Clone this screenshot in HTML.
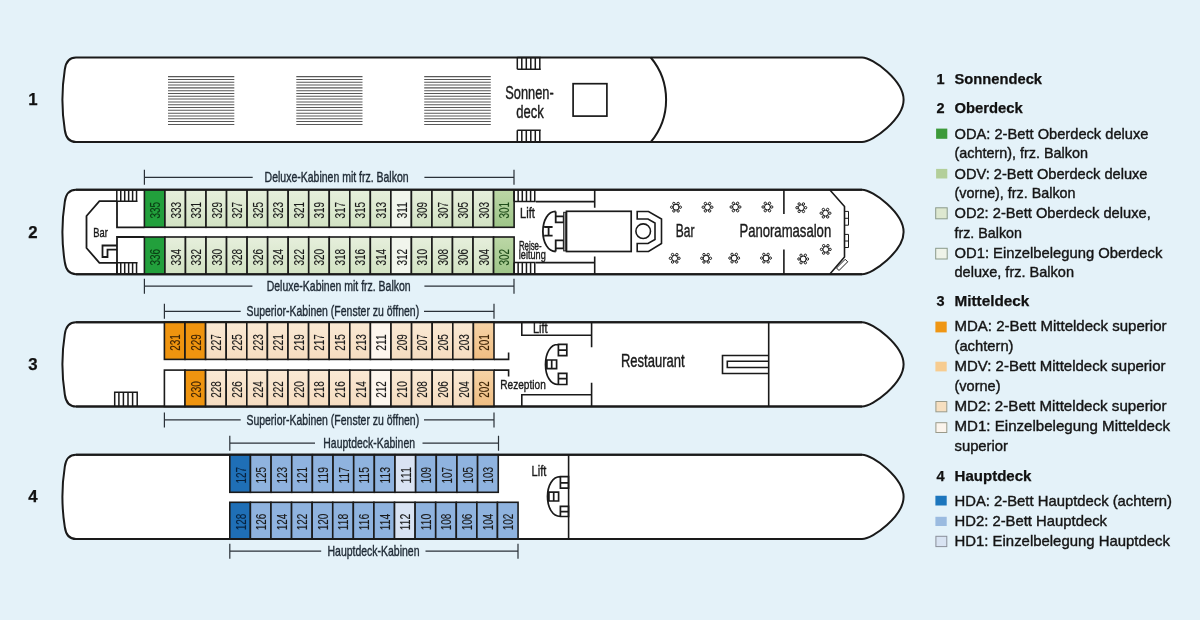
<!DOCTYPE html><html><head><meta charset="utf-8"><style>html,body{margin:0;padding:0;background:#e4f2f9;}svg{display:block;will-change:transform;}text{font-family:"Liberation Sans",sans-serif;}</style></head><body>
<svg width="1200" height="620" viewBox="0 0 1200 620">
<defs><linearGradient id="gG" x1="0" y1="0" x2="0" y2="1"><stop offset="0" stop-color="#e6efdc"/><stop offset="1" stop-color="#d2e2c3"/></linearGradient><linearGradient id="gGm" x1="0" y1="0" x2="0" y2="1"><stop offset="0" stop-color="#bcd7a6"/><stop offset="1" stop-color="#9ec588"/></linearGradient><linearGradient id="gO" x1="0" y1="0" x2="0" y2="1"><stop offset="0" stop-color="#fae9d4"/><stop offset="1" stop-color="#f5dcc0"/></linearGradient><linearGradient id="gOm" x1="0" y1="0" x2="0" y2="1"><stop offset="0" stop-color="#f6d3a6"/><stop offset="1" stop-color="#efbd82"/></linearGradient></defs>
<rect width="1200" height="620" fill="#e4f2f9"/>
<path d="M76,57.5 H862 C873,57.5 903.6,80.75 903.6,99.75 C903.6,118.75 873,142 862,142 H76 C68.5,142 65.6,136 64.8,130 Q60,99.75 64.8,69.5 C65.6,63.5 68.5,57.5 76,57.5 Z" fill="#fff" stroke="#1a1a1a" stroke-width="2"/>
<path d="M76,189.8 H862 C873,189.8 903.6,213.0 903.6,232.0 C903.6,251.0 873,274.2 862,274.2 H76 C68.5,274.2 65.6,268.2 64.8,262.2 Q60,232.0 64.8,201.8 C65.6,195.8 68.5,189.8 76,189.8 Z" fill="#fff" stroke="#1a1a1a" stroke-width="2"/>
<path d="M76,322.2 H862 C873,322.2 903.6,345.35 903.6,364.35 C903.6,383.35 873,406.5 862,406.5 H76 C68.5,406.5 65.6,400.5 64.8,394.5 Q60,364.35 64.8,334.2 C65.6,328.2 68.5,322.2 76,322.2 Z" fill="#fff" stroke="#1a1a1a" stroke-width="2"/>
<path d="M76,454.7 H862 C873,454.7 903.6,477.85 903.6,496.85 C903.6,515.85 873,539 862,539 H76 C68.5,539 65.6,533 64.8,527 Q60,496.85 64.8,466.7 C65.6,460.7 68.5,454.7 76,454.7 Z" fill="#fff" stroke="#1a1a1a" stroke-width="2"/>
<text x="32.9" y="105.35" font-size="16.8" font-weight="bold" fill="#111" stroke="#111" stroke-width="0.25" text-anchor="middle" >1</text>
<text x="32.9" y="237.6" font-size="16.8" font-weight="bold" fill="#111" stroke="#111" stroke-width="0.25" text-anchor="middle" >2</text>
<text x="32.9" y="369.95000000000005" font-size="16.8" font-weight="bold" fill="#111" stroke="#111" stroke-width="0.25" text-anchor="middle" >3</text>
<text x="32.9" y="502.45000000000005" font-size="16.8" font-weight="bold" fill="#111" stroke="#111" stroke-width="0.25" text-anchor="middle" >4</text>
<path d="M168,76.60 H234.3 M168,79.41 H234.3 M168,82.22 H234.3 M168,85.04 H234.3 M168,87.85 H234.3 M168,90.66 H234.3 M168,93.47 H234.3 M168,96.28 H234.3 M168,99.09 H234.3 M168,101.91 H234.3 M168,104.72 H234.3 M168,107.53 H234.3 M168,110.34 H234.3 M168,113.15 H234.3 M168,115.96 H234.3 M168,118.78 H234.3 M168,121.59 H234.3 M168,124.40 H234.3 " stroke="#585858" stroke-width="1.05" fill="none"/>
<path d="M296.3,76.60 H362.5 M296.3,79.41 H362.5 M296.3,82.22 H362.5 M296.3,85.04 H362.5 M296.3,87.85 H362.5 M296.3,90.66 H362.5 M296.3,93.47 H362.5 M296.3,96.28 H362.5 M296.3,99.09 H362.5 M296.3,101.91 H362.5 M296.3,104.72 H362.5 M296.3,107.53 H362.5 M296.3,110.34 H362.5 M296.3,113.15 H362.5 M296.3,115.96 H362.5 M296.3,118.78 H362.5 M296.3,121.59 H362.5 M296.3,124.40 H362.5 " stroke="#585858" stroke-width="1.05" fill="none"/>
<path d="M424.2,76.60 H490.8 M424.2,79.41 H490.8 M424.2,82.22 H490.8 M424.2,85.04 H490.8 M424.2,87.85 H490.8 M424.2,90.66 H490.8 M424.2,93.47 H490.8 M424.2,96.28 H490.8 M424.2,99.09 H490.8 M424.2,101.91 H490.8 M424.2,104.72 H490.8 M424.2,107.53 H490.8 M424.2,110.34 H490.8 M424.2,113.15 H490.8 M424.2,115.96 H490.8 M424.2,118.78 H490.8 M424.2,121.59 H490.8 M424.2,124.40 H490.8 " stroke="#585858" stroke-width="1.05" fill="none"/>
<path d="M517.3,57.5 H540.8 M517.3,69.2 H540.8 M517.3,57.5 V69.2 M521.8,57.5 V69.2 M526.3,57.5 V69.2 M530.8,57.5 V69.2 M535.3,57.5 V69.2 M539.8,57.5 V69.2" stroke="#1a1a1a" stroke-width="1.5" fill="none"/>
<path d="M517.3,130.3 H540.8 M517.3,142 H540.8 M517.3,130.3 V142 M521.8,130.3 V142 M526.3,130.3 V142 M530.8,130.3 V142 M535.3,130.3 V142 M539.8,130.3 V142" stroke="#1a1a1a" stroke-width="1.5" fill="none"/>
<text x="529.5" y="98.5" font-size="17.8" font-weight="normal" fill="#1a1a1a" stroke="#1a1a1a" stroke-width="0.4" text-anchor="middle" textLength="48.5" lengthAdjust="spacingAndGlyphs" >Sonnen-</text>
<text x="530" y="118" font-size="17.8" font-weight="normal" fill="#1a1a1a" stroke="#1a1a1a" stroke-width="0.4" text-anchor="middle" textLength="27.5" lengthAdjust="spacingAndGlyphs" >deck</text>
<rect x="573.1" y="83.7" width="33.8" height="32.4" fill="none" stroke="#1a1a1a" stroke-width="1.7"/>
<path d="M650.8,57.5 A66,66 0 0 1 650.8,142" fill="none" stroke="#1a1a1a" stroke-width="2"/>
<rect x="144.40" y="189.8" width="20.54" height="37.5" fill="#22a03c" stroke="#1a1a1a" stroke-width="1.6"/><text transform="translate(160.07,218.60) rotate(-90)" font-size="14" fill="#0b3d14" stroke="#0b3d14" stroke-width="0.12" textLength="16.6" lengthAdjust="spacingAndGlyphs">335</text><rect x="164.94" y="189.8" width="20.54" height="37.5" fill="url(#gG)" stroke="#1a1a1a" stroke-width="1.6"/><text transform="translate(180.61,218.60) rotate(-90)" font-size="14" fill="#1a1a1a" stroke="#1a1a1a" stroke-width="0.12" textLength="16.6" lengthAdjust="spacingAndGlyphs">333</text><rect x="185.48" y="189.8" width="20.54" height="37.5" fill="url(#gG)" stroke="#1a1a1a" stroke-width="1.6"/><text transform="translate(201.15,218.60) rotate(-90)" font-size="14" fill="#1a1a1a" stroke="#1a1a1a" stroke-width="0.12" textLength="16.6" lengthAdjust="spacingAndGlyphs">331</text><rect x="206.02" y="189.8" width="20.54" height="37.5" fill="url(#gG)" stroke="#1a1a1a" stroke-width="1.6"/><text transform="translate(221.69,218.60) rotate(-90)" font-size="14" fill="#1a1a1a" stroke="#1a1a1a" stroke-width="0.12" textLength="16.6" lengthAdjust="spacingAndGlyphs">329</text><rect x="226.56" y="189.8" width="20.54" height="37.5" fill="url(#gG)" stroke="#1a1a1a" stroke-width="1.6"/><text transform="translate(242.23,218.60) rotate(-90)" font-size="14" fill="#1a1a1a" stroke="#1a1a1a" stroke-width="0.12" textLength="16.6" lengthAdjust="spacingAndGlyphs">327</text><rect x="247.10" y="189.8" width="20.54" height="37.5" fill="url(#gG)" stroke="#1a1a1a" stroke-width="1.6"/><text transform="translate(262.77,218.60) rotate(-90)" font-size="14" fill="#1a1a1a" stroke="#1a1a1a" stroke-width="0.12" textLength="16.6" lengthAdjust="spacingAndGlyphs">325</text><rect x="267.64" y="189.8" width="20.54" height="37.5" fill="url(#gG)" stroke="#1a1a1a" stroke-width="1.6"/><text transform="translate(283.31,218.60) rotate(-90)" font-size="14" fill="#1a1a1a" stroke="#1a1a1a" stroke-width="0.12" textLength="16.6" lengthAdjust="spacingAndGlyphs">323</text><rect x="288.18" y="189.8" width="20.54" height="37.5" fill="url(#gG)" stroke="#1a1a1a" stroke-width="1.6"/><text transform="translate(303.85,218.60) rotate(-90)" font-size="14" fill="#1a1a1a" stroke="#1a1a1a" stroke-width="0.12" textLength="16.6" lengthAdjust="spacingAndGlyphs">321</text><rect x="308.72" y="189.8" width="20.54" height="37.5" fill="url(#gG)" stroke="#1a1a1a" stroke-width="1.6"/><text transform="translate(324.39,218.60) rotate(-90)" font-size="14" fill="#1a1a1a" stroke="#1a1a1a" stroke-width="0.12" textLength="16.6" lengthAdjust="spacingAndGlyphs">319</text><rect x="329.26" y="189.8" width="20.54" height="37.5" fill="url(#gG)" stroke="#1a1a1a" stroke-width="1.6"/><text transform="translate(344.93,218.60) rotate(-90)" font-size="14" fill="#1a1a1a" stroke="#1a1a1a" stroke-width="0.12" textLength="16.6" lengthAdjust="spacingAndGlyphs">317</text><rect x="349.80" y="189.8" width="20.54" height="37.5" fill="url(#gG)" stroke="#1a1a1a" stroke-width="1.6"/><text transform="translate(365.47,218.60) rotate(-90)" font-size="14" fill="#1a1a1a" stroke="#1a1a1a" stroke-width="0.12" textLength="16.6" lengthAdjust="spacingAndGlyphs">315</text><rect x="370.34" y="189.8" width="20.54" height="37.5" fill="url(#gG)" stroke="#1a1a1a" stroke-width="1.6"/><text transform="translate(386.01,218.60) rotate(-90)" font-size="14" fill="#1a1a1a" stroke="#1a1a1a" stroke-width="0.12" textLength="16.6" lengthAdjust="spacingAndGlyphs">313</text><rect x="390.88" y="189.8" width="20.54" height="37.5" fill="#f1f5ec" stroke="#1a1a1a" stroke-width="1.6"/><text transform="translate(406.55,218.60) rotate(-90)" font-size="14" fill="#1a1a1a" stroke="#1a1a1a" stroke-width="0.12" textLength="16.6" lengthAdjust="spacingAndGlyphs">311</text><rect x="411.42" y="189.8" width="20.54" height="37.5" fill="url(#gG)" stroke="#1a1a1a" stroke-width="1.6"/><text transform="translate(427.09,218.60) rotate(-90)" font-size="14" fill="#1a1a1a" stroke="#1a1a1a" stroke-width="0.12" textLength="16.6" lengthAdjust="spacingAndGlyphs">309</text><rect x="431.96" y="189.8" width="20.54" height="37.5" fill="url(#gG)" stroke="#1a1a1a" stroke-width="1.6"/><text transform="translate(447.63,218.60) rotate(-90)" font-size="14" fill="#1a1a1a" stroke="#1a1a1a" stroke-width="0.12" textLength="16.6" lengthAdjust="spacingAndGlyphs">307</text><rect x="452.50" y="189.8" width="20.54" height="37.5" fill="url(#gG)" stroke="#1a1a1a" stroke-width="1.6"/><text transform="translate(468.17,218.60) rotate(-90)" font-size="14" fill="#1a1a1a" stroke="#1a1a1a" stroke-width="0.12" textLength="16.6" lengthAdjust="spacingAndGlyphs">305</text><rect x="473.04" y="189.8" width="20.54" height="37.5" fill="url(#gG)" stroke="#1a1a1a" stroke-width="1.6"/><text transform="translate(488.71,218.60) rotate(-90)" font-size="14" fill="#1a1a1a" stroke="#1a1a1a" stroke-width="0.12" textLength="16.6" lengthAdjust="spacingAndGlyphs">303</text><rect x="493.58" y="189.8" width="20.54" height="37.5" fill="url(#gGm)" stroke="#1a1a1a" stroke-width="1.6"/><text transform="translate(509.25,218.60) rotate(-90)" font-size="14" fill="#1f4d1a" stroke="#1f4d1a" stroke-width="0.12" textLength="16.6" lengthAdjust="spacingAndGlyphs">301</text>
<rect x="144.40" y="237" width="20.54" height="37.19999999999999" fill="#22a03c" stroke="#1a1a1a" stroke-width="1.6"/><text transform="translate(160.07,265.50) rotate(-90)" font-size="14" fill="#0b3d14" stroke="#0b3d14" stroke-width="0.12" textLength="16.6" lengthAdjust="spacingAndGlyphs">336</text><rect x="164.94" y="237" width="20.54" height="37.19999999999999" fill="url(#gG)" stroke="#1a1a1a" stroke-width="1.6"/><text transform="translate(180.61,265.50) rotate(-90)" font-size="14" fill="#1a1a1a" stroke="#1a1a1a" stroke-width="0.12" textLength="16.6" lengthAdjust="spacingAndGlyphs">334</text><rect x="185.48" y="237" width="20.54" height="37.19999999999999" fill="url(#gG)" stroke="#1a1a1a" stroke-width="1.6"/><text transform="translate(201.15,265.50) rotate(-90)" font-size="14" fill="#1a1a1a" stroke="#1a1a1a" stroke-width="0.12" textLength="16.6" lengthAdjust="spacingAndGlyphs">332</text><rect x="206.02" y="237" width="20.54" height="37.19999999999999" fill="url(#gG)" stroke="#1a1a1a" stroke-width="1.6"/><text transform="translate(221.69,265.50) rotate(-90)" font-size="14" fill="#1a1a1a" stroke="#1a1a1a" stroke-width="0.12" textLength="16.6" lengthAdjust="spacingAndGlyphs">330</text><rect x="226.56" y="237" width="20.54" height="37.19999999999999" fill="url(#gG)" stroke="#1a1a1a" stroke-width="1.6"/><text transform="translate(242.23,265.50) rotate(-90)" font-size="14" fill="#1a1a1a" stroke="#1a1a1a" stroke-width="0.12" textLength="16.6" lengthAdjust="spacingAndGlyphs">328</text><rect x="247.10" y="237" width="20.54" height="37.19999999999999" fill="url(#gG)" stroke="#1a1a1a" stroke-width="1.6"/><text transform="translate(262.77,265.50) rotate(-90)" font-size="14" fill="#1a1a1a" stroke="#1a1a1a" stroke-width="0.12" textLength="16.6" lengthAdjust="spacingAndGlyphs">326</text><rect x="267.64" y="237" width="20.54" height="37.19999999999999" fill="url(#gG)" stroke="#1a1a1a" stroke-width="1.6"/><text transform="translate(283.31,265.50) rotate(-90)" font-size="14" fill="#1a1a1a" stroke="#1a1a1a" stroke-width="0.12" textLength="16.6" lengthAdjust="spacingAndGlyphs">324</text><rect x="288.18" y="237" width="20.54" height="37.19999999999999" fill="url(#gG)" stroke="#1a1a1a" stroke-width="1.6"/><text transform="translate(303.85,265.50) rotate(-90)" font-size="14" fill="#1a1a1a" stroke="#1a1a1a" stroke-width="0.12" textLength="16.6" lengthAdjust="spacingAndGlyphs">322</text><rect x="308.72" y="237" width="20.54" height="37.19999999999999" fill="url(#gG)" stroke="#1a1a1a" stroke-width="1.6"/><text transform="translate(324.39,265.50) rotate(-90)" font-size="14" fill="#1a1a1a" stroke="#1a1a1a" stroke-width="0.12" textLength="16.6" lengthAdjust="spacingAndGlyphs">320</text><rect x="329.26" y="237" width="20.54" height="37.19999999999999" fill="url(#gG)" stroke="#1a1a1a" stroke-width="1.6"/><text transform="translate(344.93,265.50) rotate(-90)" font-size="14" fill="#1a1a1a" stroke="#1a1a1a" stroke-width="0.12" textLength="16.6" lengthAdjust="spacingAndGlyphs">318</text><rect x="349.80" y="237" width="20.54" height="37.19999999999999" fill="url(#gG)" stroke="#1a1a1a" stroke-width="1.6"/><text transform="translate(365.47,265.50) rotate(-90)" font-size="14" fill="#1a1a1a" stroke="#1a1a1a" stroke-width="0.12" textLength="16.6" lengthAdjust="spacingAndGlyphs">316</text><rect x="370.34" y="237" width="20.54" height="37.19999999999999" fill="url(#gG)" stroke="#1a1a1a" stroke-width="1.6"/><text transform="translate(386.01,265.50) rotate(-90)" font-size="14" fill="#1a1a1a" stroke="#1a1a1a" stroke-width="0.12" textLength="16.6" lengthAdjust="spacingAndGlyphs">314</text><rect x="390.88" y="237" width="20.54" height="37.19999999999999" fill="#f1f5ec" stroke="#1a1a1a" stroke-width="1.6"/><text transform="translate(406.55,265.50) rotate(-90)" font-size="14" fill="#1a1a1a" stroke="#1a1a1a" stroke-width="0.12" textLength="16.6" lengthAdjust="spacingAndGlyphs">312</text><rect x="411.42" y="237" width="20.54" height="37.19999999999999" fill="url(#gG)" stroke="#1a1a1a" stroke-width="1.6"/><text transform="translate(427.09,265.50) rotate(-90)" font-size="14" fill="#1a1a1a" stroke="#1a1a1a" stroke-width="0.12" textLength="16.6" lengthAdjust="spacingAndGlyphs">310</text><rect x="431.96" y="237" width="20.54" height="37.19999999999999" fill="url(#gG)" stroke="#1a1a1a" stroke-width="1.6"/><text transform="translate(447.63,265.50) rotate(-90)" font-size="14" fill="#1a1a1a" stroke="#1a1a1a" stroke-width="0.12" textLength="16.6" lengthAdjust="spacingAndGlyphs">308</text><rect x="452.50" y="237" width="20.54" height="37.19999999999999" fill="url(#gG)" stroke="#1a1a1a" stroke-width="1.6"/><text transform="translate(468.17,265.50) rotate(-90)" font-size="14" fill="#1a1a1a" stroke="#1a1a1a" stroke-width="0.12" textLength="16.6" lengthAdjust="spacingAndGlyphs">306</text><rect x="473.04" y="237" width="20.54" height="37.19999999999999" fill="url(#gG)" stroke="#1a1a1a" stroke-width="1.6"/><text transform="translate(488.71,265.50) rotate(-90)" font-size="14" fill="#1a1a1a" stroke="#1a1a1a" stroke-width="0.12" textLength="16.6" lengthAdjust="spacingAndGlyphs">304</text><rect x="493.58" y="237" width="20.54" height="37.19999999999999" fill="url(#gGm)" stroke="#1a1a1a" stroke-width="1.6"/><text transform="translate(509.25,265.50) rotate(-90)" font-size="14" fill="#1f4d1a" stroke="#1f4d1a" stroke-width="0.12" textLength="16.6" lengthAdjust="spacingAndGlyphs">302</text>
<path d="M76,189.8 H862 M76,274.2 H862" stroke="#1a1a1a" stroke-width="2" fill="none"/>
<path d="M116.8,189.8 H137.55 M116.8,201.2 H137.55 M116.8,189.8 V201.2 M120.75,189.8 V201.2 M124.7,189.8 V201.2 M128.65,189.8 V201.2 M132.6,189.8 V201.2 M136.55,189.8 V201.2" stroke="#1a1a1a" stroke-width="1.5" fill="none"/>
<path d="M116.8,262.8 H137.55 M116.8,274.2 H137.55 M116.8,262.8 V274.2 M120.75,262.8 V274.2 M124.7,262.8 V274.2 M128.65,262.8 V274.2 M132.6,262.8 V274.2 M136.55,262.8 V274.2" stroke="#1a1a1a" stroke-width="1.5" fill="none"/>
<path d="M117,201.2 V227.3 H144.4 M117,274.2 V237 H144.4 M117,201.2 H99.4 L86.5,216 V248 L99.4,262.8 H117 M117,245.5 H102.5 V257 H107.5 V249.7 H117" stroke="#1a1a1a" stroke-width="1.8" fill="none"/>
<text x="100.6" y="236.5" font-size="13" font-weight="normal" fill="#1a1a1a" stroke="#1a1a1a" stroke-width="0.4" text-anchor="middle" textLength="14.5" lengthAdjust="spacingAndGlyphs" >Bar</text>
<path d="M144.4,169.8 V184.8 M514,169.8 V184.8 M144.4,177.3 H252.7 M424.4,177.3 H514" stroke="#2a3138" stroke-width="1.2" fill="none"/>
<text x="264.6" y="181.9" font-size="14.2" font-weight="normal" fill="#1f2a35" stroke="#1f2a35" stroke-width="0.4" text-anchor="start" textLength="144" lengthAdjust="spacingAndGlyphs" >Deluxe-Kabinen mit frz. Balkon</text>
<path d="M144.4,278.7 V293.7 M514,278.7 V293.7 M144.4,286.2 H252.4 M424.4,286.2 H514" stroke="#2a3138" stroke-width="1.2" fill="none"/>
<text x="266.7" y="290.8" font-size="14.2" font-weight="normal" fill="#1f2a35" stroke="#1f2a35" stroke-width="0.4" text-anchor="start" textLength="144" lengthAdjust="spacingAndGlyphs" >Deluxe-Kabinen mit frz. Balkon</text>
<path d="M514,189.8 H535.75 M514,201.6 H535.75 M514.0,189.8 V201.6 M518.15,189.8 V201.6 M522.3,189.8 V201.6 M526.45,189.8 V201.6 M530.6,189.8 V201.6 M534.75,189.8 V201.6" stroke="#1a1a1a" stroke-width="1.5" fill="none"/>
<path d="M514,262.6 H535.75 M514,274.2 H535.75 M514.0,262.6 V274.2 M518.15,262.6 V274.2 M522.3,262.6 V274.2 M526.45,262.6 V274.2 M530.6,262.6 V274.2 M534.75,262.6 V274.2" stroke="#1a1a1a" stroke-width="1.5" fill="none"/>
<path d="M536,201.6 H594.7 M594.7,189.8 V207.8 M536,262.6 H594.7 M594.7,256.5 V274.2" stroke="#1a1a1a" stroke-width="1.6" fill="none"/>
<text x="527.5" y="217.6" font-size="13.8" font-weight="normal" fill="#1a1a1a" stroke="#1a1a1a" stroke-width="0.4" text-anchor="middle" textLength="14.8" lengthAdjust="spacingAndGlyphs" >Lift</text>
<text x="530.2" y="249.8" font-size="12.2" font-weight="normal" fill="#1a1a1a" stroke="#1a1a1a" stroke-width="0.4" text-anchor="middle" textLength="22.6" lengthAdjust="spacingAndGlyphs" >Reise-</text>
<text x="532.3" y="258.7" font-size="12.2" font-weight="normal" fill="#1a1a1a" stroke="#1a1a1a" stroke-width="0.4" text-anchor="middle" textLength="26.9" lengthAdjust="spacingAndGlyphs" >leitung</text>
<path d="M555.7,211.4 C548,211.4 542.9,220.5 542.9,231.5 C542.9,242.5 548,251.5 555.7,251.5 M555.7,211.4 V216.3 M555.7,248.4 V251.5 M555.7,216.3 H563.7 V222.3 H555.7 Z M555.7,240.4 H563.7 V248.4 H555.7 Z M544.2,227 H552.6 M544.2,235.6 H552.6 M548.6,227 V235.6" stroke="#1a1a1a" stroke-width="1.8" fill="none"/>
<rect x="563.7" y="212.3" width="2.2" height="38.6" fill="#b5b5b5" stroke="#1a1a1a" stroke-width="1"/>
<rect x="566.5" y="211.3" width="64.7" height="40.2" fill="#fff" stroke="#1a1a1a" stroke-width="1.7"/>
<path d="M637.2,211.5 H648.5 L661.5,219 V243.5 L648.5,251.5 H637.2 V243.5 H648 L655,239.5 V223 L648,219 H637.2 Z" stroke="#1a1a1a" stroke-width="1.6" fill="none"/>
<circle cx="643.2" cy="231.2" r="7.3" stroke="#1a1a1a" stroke-width="1.6" fill="none"/>
<g stroke="#1e1e1e" stroke-width="1" fill="none"><circle cx="676" cy="207.2" r="2.9"/><circle cx="680.30" cy="207.20" r="1.2"/><circle cx="678.15" cy="210.92" r="1.2"/><circle cx="673.85" cy="210.92" r="1.2"/><circle cx="671.70" cy="207.20" r="1.2"/><circle cx="673.85" cy="203.48" r="1.2"/><circle cx="678.15" cy="203.48" r="1.2"/></g>
<g stroke="#1e1e1e" stroke-width="1" fill="none"><circle cx="707.5" cy="207.2" r="2.9"/><circle cx="711.80" cy="207.20" r="1.2"/><circle cx="709.65" cy="210.92" r="1.2"/><circle cx="705.35" cy="210.92" r="1.2"/><circle cx="703.20" cy="207.20" r="1.2"/><circle cx="705.35" cy="203.48" r="1.2"/><circle cx="709.65" cy="203.48" r="1.2"/></g>
<g stroke="#1e1e1e" stroke-width="1" fill="none"><circle cx="674.7" cy="258.3" r="2.9"/><circle cx="679.00" cy="258.30" r="1.2"/><circle cx="676.85" cy="262.02" r="1.2"/><circle cx="672.55" cy="262.02" r="1.2"/><circle cx="670.40" cy="258.30" r="1.2"/><circle cx="672.55" cy="254.58" r="1.2"/><circle cx="676.85" cy="254.58" r="1.2"/></g>
<g stroke="#1e1e1e" stroke-width="1" fill="none"><circle cx="706.1" cy="258.3" r="2.9"/><circle cx="710.40" cy="258.30" r="1.2"/><circle cx="708.25" cy="262.02" r="1.2"/><circle cx="703.95" cy="262.02" r="1.2"/><circle cx="701.80" cy="258.30" r="1.2"/><circle cx="703.95" cy="254.58" r="1.2"/><circle cx="708.25" cy="254.58" r="1.2"/></g>
<g stroke="#1e1e1e" stroke-width="1" fill="none"><circle cx="735.5" cy="207" r="2.9"/><circle cx="739.80" cy="207.00" r="1.2"/><circle cx="737.65" cy="210.72" r="1.2"/><circle cx="733.35" cy="210.72" r="1.2"/><circle cx="731.20" cy="207.00" r="1.2"/><circle cx="733.35" cy="203.28" r="1.2"/><circle cx="737.65" cy="203.28" r="1.2"/></g>
<g stroke="#1e1e1e" stroke-width="1" fill="none"><circle cx="767.4" cy="207" r="2.9"/><circle cx="771.70" cy="207.00" r="1.2"/><circle cx="769.55" cy="210.72" r="1.2"/><circle cx="765.25" cy="210.72" r="1.2"/><circle cx="763.10" cy="207.00" r="1.2"/><circle cx="765.25" cy="203.28" r="1.2"/><circle cx="769.55" cy="203.28" r="1.2"/></g>
<g stroke="#1e1e1e" stroke-width="1" fill="none"><circle cx="801.3" cy="207.7" r="2.9"/><circle cx="805.60" cy="207.70" r="1.2"/><circle cx="803.45" cy="211.42" r="1.2"/><circle cx="799.15" cy="211.42" r="1.2"/><circle cx="797.00" cy="207.70" r="1.2"/><circle cx="799.15" cy="203.98" r="1.2"/><circle cx="803.45" cy="203.98" r="1.2"/></g>
<g stroke="#1e1e1e" stroke-width="1" fill="none"><circle cx="825.5" cy="213.2" r="2.9"/><circle cx="829.80" cy="213.20" r="1.2"/><circle cx="827.65" cy="216.92" r="1.2"/><circle cx="823.35" cy="216.92" r="1.2"/><circle cx="821.20" cy="213.20" r="1.2"/><circle cx="823.35" cy="209.48" r="1.2"/><circle cx="827.65" cy="209.48" r="1.2"/></g>
<g stroke="#1e1e1e" stroke-width="1" fill="none"><circle cx="734.2" cy="258.1" r="2.9"/><circle cx="738.50" cy="258.10" r="1.2"/><circle cx="736.35" cy="261.82" r="1.2"/><circle cx="732.05" cy="261.82" r="1.2"/><circle cx="729.90" cy="258.10" r="1.2"/><circle cx="732.05" cy="254.38" r="1.2"/><circle cx="736.35" cy="254.38" r="1.2"/></g>
<g stroke="#1e1e1e" stroke-width="1" fill="none"><circle cx="766" cy="258.1" r="2.9"/><circle cx="770.30" cy="258.10" r="1.2"/><circle cx="768.15" cy="261.82" r="1.2"/><circle cx="763.85" cy="261.82" r="1.2"/><circle cx="761.70" cy="258.10" r="1.2"/><circle cx="763.85" cy="254.38" r="1.2"/><circle cx="768.15" cy="254.38" r="1.2"/></g>
<g stroke="#1e1e1e" stroke-width="1" fill="none"><circle cx="803.2" cy="259" r="2.9"/><circle cx="807.50" cy="259.00" r="1.2"/><circle cx="805.35" cy="262.72" r="1.2"/><circle cx="801.05" cy="262.72" r="1.2"/><circle cx="798.90" cy="259.00" r="1.2"/><circle cx="801.05" cy="255.28" r="1.2"/><circle cx="805.35" cy="255.28" r="1.2"/></g>
<g stroke="#1e1e1e" stroke-width="1" fill="none"><circle cx="825.8" cy="249.4" r="2.9"/><circle cx="830.10" cy="249.40" r="1.2"/><circle cx="827.95" cy="253.12" r="1.2"/><circle cx="823.65" cy="253.12" r="1.2"/><circle cx="821.50" cy="249.40" r="1.2"/><circle cx="823.65" cy="245.68" r="1.2"/><circle cx="827.95" cy="245.68" r="1.2"/></g>
<text x="685.2" y="236.6" font-size="17.6" font-weight="normal" fill="#1a1a1a" stroke="#1a1a1a" stroke-width="0.4" text-anchor="middle" textLength="18.7" lengthAdjust="spacingAndGlyphs" >Bar</text>
<text x="739.4" y="236.5" font-size="17.8" font-weight="normal" fill="#1a1a1a" stroke="#1a1a1a" stroke-width="0.4" text-anchor="start" textLength="91.8" lengthAdjust="spacingAndGlyphs" >Panoramasalon</text>
<path d="M783.9,189.8 V213.9 M783.9,249.6 V274.2 M829.7,189.8 L844.5,206.5 V257 L829.7,274.2" stroke="#1a1a1a" stroke-width="1.6" fill="none"/>
<path d="M844.5,211.4 H848.5 V225.2 H844.5 M844.5,218.3 H848.5 M844.5,234.4 H848.5 V247.5 H844.5 M844.5,241 H848.5" stroke="#1a1a1a" stroke-width="1" fill="none"/>
<path d="M836.5,268 L845.2,259.3 L847.7,261.8 L839,270.5 Z" stroke="#1a1a1a" stroke-width="1" fill="#fff"/>
<rect x="164.40" y="322.2" width="20.60" height="37.19999999999999" fill="#ef940f" stroke="#1a1a1a" stroke-width="1.6"/><text transform="translate(180.10,350.70) rotate(-90)" font-size="14" fill="#3d2305" stroke="#3d2305" stroke-width="0.12" textLength="16.6" lengthAdjust="spacingAndGlyphs">231</text><rect x="185.00" y="322.2" width="20.60" height="37.19999999999999" fill="#ef940f" stroke="#1a1a1a" stroke-width="1.6"/><text transform="translate(200.70,350.70) rotate(-90)" font-size="14" fill="#3d2305" stroke="#3d2305" stroke-width="0.12" textLength="16.6" lengthAdjust="spacingAndGlyphs">229</text><rect x="205.60" y="322.2" width="20.60" height="37.19999999999999" fill="url(#gO)" stroke="#1a1a1a" stroke-width="1.6"/><text transform="translate(221.30,350.70) rotate(-90)" font-size="14" fill="#1a1a1a" stroke="#1a1a1a" stroke-width="0.12" textLength="16.6" lengthAdjust="spacingAndGlyphs">227</text><rect x="226.20" y="322.2" width="20.60" height="37.19999999999999" fill="url(#gO)" stroke="#1a1a1a" stroke-width="1.6"/><text transform="translate(241.90,350.70) rotate(-90)" font-size="14" fill="#1a1a1a" stroke="#1a1a1a" stroke-width="0.12" textLength="16.6" lengthAdjust="spacingAndGlyphs">225</text><rect x="246.80" y="322.2" width="20.60" height="37.19999999999999" fill="url(#gO)" stroke="#1a1a1a" stroke-width="1.6"/><text transform="translate(262.50,350.70) rotate(-90)" font-size="14" fill="#1a1a1a" stroke="#1a1a1a" stroke-width="0.12" textLength="16.6" lengthAdjust="spacingAndGlyphs">223</text><rect x="267.40" y="322.2" width="20.60" height="37.19999999999999" fill="url(#gO)" stroke="#1a1a1a" stroke-width="1.6"/><text transform="translate(283.10,350.70) rotate(-90)" font-size="14" fill="#1a1a1a" stroke="#1a1a1a" stroke-width="0.12" textLength="16.6" lengthAdjust="spacingAndGlyphs">221</text><rect x="288.00" y="322.2" width="20.60" height="37.19999999999999" fill="url(#gO)" stroke="#1a1a1a" stroke-width="1.6"/><text transform="translate(303.70,350.70) rotate(-90)" font-size="14" fill="#1a1a1a" stroke="#1a1a1a" stroke-width="0.12" textLength="16.6" lengthAdjust="spacingAndGlyphs">219</text><rect x="308.60" y="322.2" width="20.60" height="37.19999999999999" fill="url(#gO)" stroke="#1a1a1a" stroke-width="1.6"/><text transform="translate(324.30,350.70) rotate(-90)" font-size="14" fill="#1a1a1a" stroke="#1a1a1a" stroke-width="0.12" textLength="16.6" lengthAdjust="spacingAndGlyphs">217</text><rect x="329.20" y="322.2" width="20.60" height="37.19999999999999" fill="url(#gO)" stroke="#1a1a1a" stroke-width="1.6"/><text transform="translate(344.90,350.70) rotate(-90)" font-size="14" fill="#1a1a1a" stroke="#1a1a1a" stroke-width="0.12" textLength="16.6" lengthAdjust="spacingAndGlyphs">215</text><rect x="349.80" y="322.2" width="20.60" height="37.19999999999999" fill="url(#gO)" stroke="#1a1a1a" stroke-width="1.6"/><text transform="translate(365.50,350.70) rotate(-90)" font-size="14" fill="#1a1a1a" stroke="#1a1a1a" stroke-width="0.12" textLength="16.6" lengthAdjust="spacingAndGlyphs">213</text><rect x="370.40" y="322.2" width="20.60" height="37.19999999999999" fill="#fdf6ee" stroke="#1a1a1a" stroke-width="1.6"/><text transform="translate(386.10,350.70) rotate(-90)" font-size="14" fill="#1a1a1a" stroke="#1a1a1a" stroke-width="0.12" textLength="16.6" lengthAdjust="spacingAndGlyphs">211</text><rect x="391.00" y="322.2" width="20.60" height="37.19999999999999" fill="url(#gO)" stroke="#1a1a1a" stroke-width="1.6"/><text transform="translate(406.70,350.70) rotate(-90)" font-size="14" fill="#1a1a1a" stroke="#1a1a1a" stroke-width="0.12" textLength="16.6" lengthAdjust="spacingAndGlyphs">209</text><rect x="411.60" y="322.2" width="20.60" height="37.19999999999999" fill="url(#gO)" stroke="#1a1a1a" stroke-width="1.6"/><text transform="translate(427.30,350.70) rotate(-90)" font-size="14" fill="#1a1a1a" stroke="#1a1a1a" stroke-width="0.12" textLength="16.6" lengthAdjust="spacingAndGlyphs">207</text><rect x="432.20" y="322.2" width="20.60" height="37.19999999999999" fill="url(#gO)" stroke="#1a1a1a" stroke-width="1.6"/><text transform="translate(447.90,350.70) rotate(-90)" font-size="14" fill="#1a1a1a" stroke="#1a1a1a" stroke-width="0.12" textLength="16.6" lengthAdjust="spacingAndGlyphs">205</text><rect x="452.80" y="322.2" width="20.60" height="37.19999999999999" fill="url(#gO)" stroke="#1a1a1a" stroke-width="1.6"/><text transform="translate(468.50,350.70) rotate(-90)" font-size="14" fill="#1a1a1a" stroke="#1a1a1a" stroke-width="0.12" textLength="16.6" lengthAdjust="spacingAndGlyphs">203</text><rect x="473.40" y="322.2" width="20.60" height="37.19999999999999" fill="url(#gOm)" stroke="#1a1a1a" stroke-width="1.6"/><text transform="translate(489.10,350.70) rotate(-90)" font-size="14" fill="#3d2305" stroke="#3d2305" stroke-width="0.12" textLength="16.6" lengthAdjust="spacingAndGlyphs">201</text>
<rect x="164.40" y="370.1" width="20.60" height="36.39999999999998" fill="#fff" stroke="#1a1a1a" stroke-width="1.6"/><rect x="185.00" y="370.1" width="20.60" height="36.39999999999998" fill="#ef940f" stroke="#1a1a1a" stroke-width="1.6"/><text transform="translate(200.70,397.80) rotate(-90)" font-size="14" fill="#3d2305" stroke="#3d2305" stroke-width="0.12" textLength="16.6" lengthAdjust="spacingAndGlyphs">230</text><rect x="205.60" y="370.1" width="20.60" height="36.39999999999998" fill="url(#gO)" stroke="#1a1a1a" stroke-width="1.6"/><text transform="translate(221.30,397.80) rotate(-90)" font-size="14" fill="#1a1a1a" stroke="#1a1a1a" stroke-width="0.12" textLength="16.6" lengthAdjust="spacingAndGlyphs">228</text><rect x="226.20" y="370.1" width="20.60" height="36.39999999999998" fill="url(#gO)" stroke="#1a1a1a" stroke-width="1.6"/><text transform="translate(241.90,397.80) rotate(-90)" font-size="14" fill="#1a1a1a" stroke="#1a1a1a" stroke-width="0.12" textLength="16.6" lengthAdjust="spacingAndGlyphs">226</text><rect x="246.80" y="370.1" width="20.60" height="36.39999999999998" fill="url(#gO)" stroke="#1a1a1a" stroke-width="1.6"/><text transform="translate(262.50,397.80) rotate(-90)" font-size="14" fill="#1a1a1a" stroke="#1a1a1a" stroke-width="0.12" textLength="16.6" lengthAdjust="spacingAndGlyphs">224</text><rect x="267.40" y="370.1" width="20.60" height="36.39999999999998" fill="url(#gO)" stroke="#1a1a1a" stroke-width="1.6"/><text transform="translate(283.10,397.80) rotate(-90)" font-size="14" fill="#1a1a1a" stroke="#1a1a1a" stroke-width="0.12" textLength="16.6" lengthAdjust="spacingAndGlyphs">222</text><rect x="288.00" y="370.1" width="20.60" height="36.39999999999998" fill="url(#gO)" stroke="#1a1a1a" stroke-width="1.6"/><text transform="translate(303.70,397.80) rotate(-90)" font-size="14" fill="#1a1a1a" stroke="#1a1a1a" stroke-width="0.12" textLength="16.6" lengthAdjust="spacingAndGlyphs">220</text><rect x="308.60" y="370.1" width="20.60" height="36.39999999999998" fill="url(#gO)" stroke="#1a1a1a" stroke-width="1.6"/><text transform="translate(324.30,397.80) rotate(-90)" font-size="14" fill="#1a1a1a" stroke="#1a1a1a" stroke-width="0.12" textLength="16.6" lengthAdjust="spacingAndGlyphs">218</text><rect x="329.20" y="370.1" width="20.60" height="36.39999999999998" fill="url(#gO)" stroke="#1a1a1a" stroke-width="1.6"/><text transform="translate(344.90,397.80) rotate(-90)" font-size="14" fill="#1a1a1a" stroke="#1a1a1a" stroke-width="0.12" textLength="16.6" lengthAdjust="spacingAndGlyphs">216</text><rect x="349.80" y="370.1" width="20.60" height="36.39999999999998" fill="url(#gO)" stroke="#1a1a1a" stroke-width="1.6"/><text transform="translate(365.50,397.80) rotate(-90)" font-size="14" fill="#1a1a1a" stroke="#1a1a1a" stroke-width="0.12" textLength="16.6" lengthAdjust="spacingAndGlyphs">214</text><rect x="370.40" y="370.1" width="20.60" height="36.39999999999998" fill="#fdf6ee" stroke="#1a1a1a" stroke-width="1.6"/><text transform="translate(386.10,397.80) rotate(-90)" font-size="14" fill="#1a1a1a" stroke="#1a1a1a" stroke-width="0.12" textLength="16.6" lengthAdjust="spacingAndGlyphs">212</text><rect x="391.00" y="370.1" width="20.60" height="36.39999999999998" fill="url(#gO)" stroke="#1a1a1a" stroke-width="1.6"/><text transform="translate(406.70,397.80) rotate(-90)" font-size="14" fill="#1a1a1a" stroke="#1a1a1a" stroke-width="0.12" textLength="16.6" lengthAdjust="spacingAndGlyphs">210</text><rect x="411.60" y="370.1" width="20.60" height="36.39999999999998" fill="url(#gO)" stroke="#1a1a1a" stroke-width="1.6"/><text transform="translate(427.30,397.80) rotate(-90)" font-size="14" fill="#1a1a1a" stroke="#1a1a1a" stroke-width="0.12" textLength="16.6" lengthAdjust="spacingAndGlyphs">208</text><rect x="432.20" y="370.1" width="20.60" height="36.39999999999998" fill="url(#gO)" stroke="#1a1a1a" stroke-width="1.6"/><text transform="translate(447.90,397.80) rotate(-90)" font-size="14" fill="#1a1a1a" stroke="#1a1a1a" stroke-width="0.12" textLength="16.6" lengthAdjust="spacingAndGlyphs">206</text><rect x="452.80" y="370.1" width="20.60" height="36.39999999999998" fill="url(#gO)" stroke="#1a1a1a" stroke-width="1.6"/><text transform="translate(468.50,397.80) rotate(-90)" font-size="14" fill="#1a1a1a" stroke="#1a1a1a" stroke-width="0.12" textLength="16.6" lengthAdjust="spacingAndGlyphs">204</text><rect x="473.40" y="370.1" width="20.60" height="36.39999999999998" fill="url(#gOm)" stroke="#1a1a1a" stroke-width="1.6"/><text transform="translate(489.10,397.80) rotate(-90)" font-size="14" fill="#3d2305" stroke="#3d2305" stroke-width="0.12" textLength="16.6" lengthAdjust="spacingAndGlyphs">202</text>
<path d="M76,322.2 H862 M76,406.5 H862" stroke="#1a1a1a" stroke-width="2" fill="none"/>
<path d="M114.7,406.5 V392.2 H137.2 V406.5 M118.9,392.2 V406.5 M123.4,392.2 V406.5 M128,392.2 V406.5 M132.6,392.2 V406.5" stroke="#1a1a1a" stroke-width="1.5" fill="none"/>
<path d="M164.4,303.8 V318.8 M494,303.8 V318.8 M164.4,311.3 H240.7 M424,311.3 H494" stroke="#2a3138" stroke-width="1.2" fill="none"/>
<text x="246.4" y="316.2" font-size="14.2" font-weight="normal" fill="#1f2a35" stroke="#1f2a35" stroke-width="0.4" text-anchor="start" textLength="172.8" lengthAdjust="spacingAndGlyphs" >Superior-Kabinen (Fenster zu öffnen)</text>
<path d="M164.4,412.4 V427.4 M494,412.4 V427.4 M164.4,419.9 H240.7 M424,419.9 H494" stroke="#2a3138" stroke-width="1.2" fill="none"/>
<text x="246.4" y="424.8" font-size="14.2" font-weight="normal" fill="#1f2a35" stroke="#1f2a35" stroke-width="0.4" text-anchor="start" textLength="172.8" lengthAdjust="spacingAndGlyphs" >Superior-Kabinen (Fenster zu öffnen)</text>
<path d="M494,359.4 H508.6 V352.4 M494,370.1 H508.6 V376.5" stroke="#1a1a1a" stroke-width="1.6" fill="none"/>
<path d="M521.8,322.2 V335.2 H591.6 M591.6,322.2 V347.3 M521.8,406.5 V394.8 H591.6 M591.6,382.7 V406.5" stroke="#1a1a1a" stroke-width="1.6" fill="none"/>
<text x="540.3" y="332.6" font-size="14" font-weight="normal" fill="#1a1a1a" stroke="#1a1a1a" stroke-width="0.4" text-anchor="middle" textLength="14.8" lengthAdjust="spacingAndGlyphs" >Lift</text>
<text x="523" y="388.5" font-size="13.6" font-weight="normal" fill="#1a1a1a" stroke="#1a1a1a" stroke-width="0.4" text-anchor="middle" textLength="45.5" lengthAdjust="spacingAndGlyphs" >Rezeption</text>
<path d="M557.9,344.4 C550.5,344.4 545.5,353 545.5,364.4 C545.5,376 550.5,384.5 557.9,384.5 M558.4,344.4 H566.8 V355.7 H558.4 Z M558.4,350.2 H566.8 M558.4,373.4 H566.8 V384.5 H558.4 Z M558.4,378.7 H566.8 M546.9,360 H556.6 V368.6 H546.9 Z M551.7,360 V368.6" stroke="#1a1a1a" stroke-width="1.7" fill="none"/>
<text x="652.8" y="366.7" font-size="17.6" font-weight="normal" fill="#1a1a1a" stroke="#1a1a1a" stroke-width="0.4" text-anchor="middle" textLength="63.7" lengthAdjust="spacingAndGlyphs" >Restaurant</text>
<path d="M768.7,322.2 V406.5 M768.7,355.5 H722.5 V373.5 H768.7 M768.7,361.2 H727.3 V367.5 H768.7" stroke="#1a1a1a" stroke-width="1.6" fill="none"/>
<rect x="229.80" y="454.7" width="20.65" height="37.60000000000002" fill="#1f6fb6" stroke="#1a1a1a" stroke-width="1.6"/><text transform="translate(245.53,483.60) rotate(-90)" font-size="14" fill="#08233f" stroke="#08233f" stroke-width="0.12" textLength="16.6" lengthAdjust="spacingAndGlyphs">127</text><rect x="250.45" y="454.7" width="20.65" height="37.60000000000002" fill="#8fb3df" stroke="#1a1a1a" stroke-width="1.6"/><text transform="translate(266.18,483.60) rotate(-90)" font-size="14" fill="#1a1a1a" stroke="#1a1a1a" stroke-width="0.12" textLength="16.6" lengthAdjust="spacingAndGlyphs">125</text><rect x="271.10" y="454.7" width="20.65" height="37.60000000000002" fill="#8fb3df" stroke="#1a1a1a" stroke-width="1.6"/><text transform="translate(286.82,483.60) rotate(-90)" font-size="14" fill="#1a1a1a" stroke="#1a1a1a" stroke-width="0.12" textLength="16.6" lengthAdjust="spacingAndGlyphs">123</text><rect x="291.75" y="454.7" width="20.65" height="37.60000000000002" fill="#8fb3df" stroke="#1a1a1a" stroke-width="1.6"/><text transform="translate(307.47,483.60) rotate(-90)" font-size="14" fill="#1a1a1a" stroke="#1a1a1a" stroke-width="0.12" textLength="16.6" lengthAdjust="spacingAndGlyphs">121</text><rect x="312.40" y="454.7" width="20.65" height="37.60000000000002" fill="#8fb3df" stroke="#1a1a1a" stroke-width="1.6"/><text transform="translate(328.12,483.60) rotate(-90)" font-size="14" fill="#1a1a1a" stroke="#1a1a1a" stroke-width="0.12" textLength="16.6" lengthAdjust="spacingAndGlyphs">119</text><rect x="333.05" y="454.7" width="20.65" height="37.60000000000002" fill="#8fb3df" stroke="#1a1a1a" stroke-width="1.6"/><text transform="translate(348.77,483.60) rotate(-90)" font-size="14" fill="#1a1a1a" stroke="#1a1a1a" stroke-width="0.12" textLength="16.6" lengthAdjust="spacingAndGlyphs">117</text><rect x="353.70" y="454.7" width="20.65" height="37.60000000000002" fill="#8fb3df" stroke="#1a1a1a" stroke-width="1.6"/><text transform="translate(369.42,483.60) rotate(-90)" font-size="14" fill="#1a1a1a" stroke="#1a1a1a" stroke-width="0.12" textLength="16.6" lengthAdjust="spacingAndGlyphs">115</text><rect x="374.35" y="454.7" width="20.65" height="37.60000000000002" fill="#8fb3df" stroke="#1a1a1a" stroke-width="1.6"/><text transform="translate(390.07,483.60) rotate(-90)" font-size="14" fill="#1a1a1a" stroke="#1a1a1a" stroke-width="0.12" textLength="16.6" lengthAdjust="spacingAndGlyphs">113</text><rect x="395.00" y="454.7" width="20.65" height="37.60000000000002" fill="#d9e3f3" stroke="#1a1a1a" stroke-width="1.6"/><text transform="translate(410.72,483.60) rotate(-90)" font-size="14" fill="#1a1a1a" stroke="#1a1a1a" stroke-width="0.12" textLength="16.6" lengthAdjust="spacingAndGlyphs">111</text><rect x="415.65" y="454.7" width="20.65" height="37.60000000000002" fill="#8fb3df" stroke="#1a1a1a" stroke-width="1.6"/><text transform="translate(431.37,483.60) rotate(-90)" font-size="14" fill="#1a1a1a" stroke="#1a1a1a" stroke-width="0.12" textLength="16.6" lengthAdjust="spacingAndGlyphs">109</text><rect x="436.30" y="454.7" width="20.65" height="37.60000000000002" fill="#8fb3df" stroke="#1a1a1a" stroke-width="1.6"/><text transform="translate(452.02,483.60) rotate(-90)" font-size="14" fill="#1a1a1a" stroke="#1a1a1a" stroke-width="0.12" textLength="16.6" lengthAdjust="spacingAndGlyphs">107</text><rect x="456.95" y="454.7" width="20.65" height="37.60000000000002" fill="#8fb3df" stroke="#1a1a1a" stroke-width="1.6"/><text transform="translate(472.67,483.60) rotate(-90)" font-size="14" fill="#1a1a1a" stroke="#1a1a1a" stroke-width="0.12" textLength="16.6" lengthAdjust="spacingAndGlyphs">105</text><rect x="477.60" y="454.7" width="20.65" height="37.60000000000002" fill="#8fb3df" stroke="#1a1a1a" stroke-width="1.6"/><text transform="translate(493.32,483.60) rotate(-90)" font-size="14" fill="#1a1a1a" stroke="#1a1a1a" stroke-width="0.12" textLength="16.6" lengthAdjust="spacingAndGlyphs">103</text>
<rect x="229.80" y="502.3" width="20.59" height="36.69999999999999" fill="#1f6fb6" stroke="#1a1a1a" stroke-width="1.6"/><text transform="translate(245.50,530.30) rotate(-90)" font-size="14" fill="#08233f" stroke="#08233f" stroke-width="0.12" textLength="16.6" lengthAdjust="spacingAndGlyphs">128</text><rect x="250.39" y="502.3" width="20.59" height="36.69999999999999" fill="#8fb3df" stroke="#1a1a1a" stroke-width="1.6"/><text transform="translate(266.08,530.30) rotate(-90)" font-size="14" fill="#1a1a1a" stroke="#1a1a1a" stroke-width="0.12" textLength="16.6" lengthAdjust="spacingAndGlyphs">126</text><rect x="270.98" y="502.3" width="20.59" height="36.69999999999999" fill="#8fb3df" stroke="#1a1a1a" stroke-width="1.6"/><text transform="translate(286.68,530.30) rotate(-90)" font-size="14" fill="#1a1a1a" stroke="#1a1a1a" stroke-width="0.12" textLength="16.6" lengthAdjust="spacingAndGlyphs">124</text><rect x="291.57" y="502.3" width="20.59" height="36.69999999999999" fill="#8fb3df" stroke="#1a1a1a" stroke-width="1.6"/><text transform="translate(307.26,530.30) rotate(-90)" font-size="14" fill="#1a1a1a" stroke="#1a1a1a" stroke-width="0.12" textLength="16.6" lengthAdjust="spacingAndGlyphs">122</text><rect x="312.16" y="502.3" width="20.59" height="36.69999999999999" fill="#8fb3df" stroke="#1a1a1a" stroke-width="1.6"/><text transform="translate(327.86,530.30) rotate(-90)" font-size="14" fill="#1a1a1a" stroke="#1a1a1a" stroke-width="0.12" textLength="16.6" lengthAdjust="spacingAndGlyphs">120</text><rect x="332.75" y="502.3" width="20.59" height="36.69999999999999" fill="#8fb3df" stroke="#1a1a1a" stroke-width="1.6"/><text transform="translate(348.44,530.30) rotate(-90)" font-size="14" fill="#1a1a1a" stroke="#1a1a1a" stroke-width="0.12" textLength="16.6" lengthAdjust="spacingAndGlyphs">118</text><rect x="353.34" y="502.3" width="20.59" height="36.69999999999999" fill="#8fb3df" stroke="#1a1a1a" stroke-width="1.6"/><text transform="translate(369.04,530.30) rotate(-90)" font-size="14" fill="#1a1a1a" stroke="#1a1a1a" stroke-width="0.12" textLength="16.6" lengthAdjust="spacingAndGlyphs">116</text><rect x="373.93" y="502.3" width="20.59" height="36.69999999999999" fill="#8fb3df" stroke="#1a1a1a" stroke-width="1.6"/><text transform="translate(389.62,530.30) rotate(-90)" font-size="14" fill="#1a1a1a" stroke="#1a1a1a" stroke-width="0.12" textLength="16.6" lengthAdjust="spacingAndGlyphs">114</text><rect x="394.52" y="502.3" width="20.59" height="36.69999999999999" fill="#d9e3f3" stroke="#1a1a1a" stroke-width="1.6"/><text transform="translate(410.21,530.30) rotate(-90)" font-size="14" fill="#1a1a1a" stroke="#1a1a1a" stroke-width="0.12" textLength="16.6" lengthAdjust="spacingAndGlyphs">112</text><rect x="415.11" y="502.3" width="20.59" height="36.69999999999999" fill="#8fb3df" stroke="#1a1a1a" stroke-width="1.6"/><text transform="translate(430.81,530.30) rotate(-90)" font-size="14" fill="#1a1a1a" stroke="#1a1a1a" stroke-width="0.12" textLength="16.6" lengthAdjust="spacingAndGlyphs">110</text><rect x="435.70" y="502.3" width="20.59" height="36.69999999999999" fill="#8fb3df" stroke="#1a1a1a" stroke-width="1.6"/><text transform="translate(451.40,530.30) rotate(-90)" font-size="14" fill="#1a1a1a" stroke="#1a1a1a" stroke-width="0.12" textLength="16.6" lengthAdjust="spacingAndGlyphs">108</text><rect x="456.29" y="502.3" width="20.59" height="36.69999999999999" fill="#8fb3df" stroke="#1a1a1a" stroke-width="1.6"/><text transform="translate(471.99,530.30) rotate(-90)" font-size="14" fill="#1a1a1a" stroke="#1a1a1a" stroke-width="0.12" textLength="16.6" lengthAdjust="spacingAndGlyphs">106</text><rect x="476.88" y="502.3" width="20.59" height="36.69999999999999" fill="#8fb3df" stroke="#1a1a1a" stroke-width="1.6"/><text transform="translate(492.57,530.30) rotate(-90)" font-size="14" fill="#1a1a1a" stroke="#1a1a1a" stroke-width="0.12" textLength="16.6" lengthAdjust="spacingAndGlyphs">104</text><rect x="497.47" y="502.3" width="20.59" height="36.69999999999999" fill="#8fb3df" stroke="#1a1a1a" stroke-width="1.6"/><text transform="translate(513.17,530.30) rotate(-90)" font-size="14" fill="#1a1a1a" stroke="#1a1a1a" stroke-width="0.12" textLength="16.6" lengthAdjust="spacingAndGlyphs">102</text>
<path d="M76,454.7 H862 M76,539 H862" stroke="#1a1a1a" stroke-width="2" fill="none"/>
<path d="M229.8,435.7 V450.7 M498.5,435.7 V450.7 M229.8,443.2 H315 M422.5,443.2 H498.5" stroke="#2a3138" stroke-width="1.2" fill="none"/>
<text x="323.3" y="448.1" font-size="14.2" font-weight="normal" fill="#1f2a35" stroke="#1f2a35" stroke-width="0.4" text-anchor="start" textLength="91.7" lengthAdjust="spacingAndGlyphs" >Hauptdeck-Kabinen</text>
<path d="M229.8,543.7 V558.7 M518,543.7 V558.7 M229.8,551.2 H321.2 M425.5,551.2 H518" stroke="#2a3138" stroke-width="1.2" fill="none"/>
<text x="327.5" y="556.1" font-size="14.2" font-weight="normal" fill="#1f2a35" stroke="#1f2a35" stroke-width="0.4" text-anchor="start" textLength="92" lengthAdjust="spacingAndGlyphs" >Hauptdeck-Kabinen</text>
<path d="M568.6,454.7 V539" stroke="#1a1a1a" stroke-width="1.6" fill="none"/>
<text x="539" y="475.8" font-size="15" font-weight="normal" fill="#1a1a1a" stroke="#1a1a1a" stroke-width="0.4" text-anchor="middle" textLength="14.8" lengthAdjust="spacingAndGlyphs" >Lift</text>
<path d="M560.4,476.6 C552.5,476.6 547.5,485.5 547.5,496.6 C547.5,507.5 552.5,516.5 560.4,516.5 M560.4,476.6 H568.5 V488.2 H560.4 Z M560.4,482.8 H568.5 M560.4,506.3 H568.5 V516.5 H560.4 Z M560.4,511.6 H568.5 M548.9,492.1 H558.6 V501 H548.9 Z M553.7,492.1 V501" stroke="#1a1a1a" stroke-width="1.7" fill="none"/>
<text x="936.5" y="84.3" font-size="14.5" font-weight="bold" fill="#111" stroke="#111" stroke-width="0.25" text-anchor="start" >1</text>
<text x="954.5" y="84.3" font-size="14.5" font-weight="bold" fill="#111" stroke="#111" stroke-width="0.25" text-anchor="start" textLength="87.5" lengthAdjust="spacingAndGlyphs" >Sonnendeck</text>
<text x="936.5" y="113" font-size="14.5" font-weight="bold" fill="#111" stroke="#111" stroke-width="0.25" text-anchor="start" >2</text>
<text x="954.5" y="113" font-size="14.5" font-weight="bold" fill="#111" stroke="#111" stroke-width="0.25" text-anchor="start" textLength="68.3" lengthAdjust="spacingAndGlyphs" >Oberdeck</text>
<rect x="936.1" y="128.6" width="11.199999999999932" height="10.200000000000017" fill="#3c9a3a" stroke="none" stroke-width="0"/>
<text x="954.5" y="139.2" font-size="15" font-weight="normal" fill="#151515" stroke="#151515" stroke-width="0.4" text-anchor="start" textLength="194" lengthAdjust="spacingAndGlyphs" >ODA: 2-Bett Oberdeck deluxe</text>
<text x="954.5" y="158.4" font-size="15" font-weight="normal" fill="#151515" stroke="#151515" stroke-width="0.4" text-anchor="start" textLength="133.5" lengthAdjust="spacingAndGlyphs" >(achtern), frz. Balkon</text>
<rect x="936.1" y="168.9" width="11.199999999999932" height="9.599999999999994" fill="#b3cf9a" stroke="none" stroke-width="0"/>
<text x="954.5" y="178.5" font-size="15" font-weight="normal" fill="#151515" stroke="#151515" stroke-width="0.4" text-anchor="start" textLength="193" lengthAdjust="spacingAndGlyphs" >ODV: 2-Bett Oberdeck deluxe</text>
<text x="954.5" y="197.8" font-size="15" font-weight="normal" fill="#151515" stroke="#151515" stroke-width="0.4" text-anchor="start" textLength="121" lengthAdjust="spacingAndGlyphs" >(vorne), frz. Balkon</text>
<rect x="935.7" y="207.8" width="11.5" height="11.0" fill="#dde8d0" stroke="#8a9a8a" stroke-width="1"/>
<text x="954.5" y="218.3" font-size="15" font-weight="normal" fill="#151515" stroke="#151515" stroke-width="0.4" text-anchor="start" textLength="196.2" lengthAdjust="spacingAndGlyphs" >OD2: 2-Bett Oberdeck deluxe,</text>
<text x="954.5" y="237.5" font-size="15" font-weight="normal" fill="#151515" stroke="#151515" stroke-width="0.4" text-anchor="start" textLength="67.5" lengthAdjust="spacingAndGlyphs" >frz. Balkon</text>
<rect x="935.7" y="248.3" width="11.5" height="10.699999999999989" fill="#eef3e9" stroke="#8a9a8a" stroke-width="1"/>
<text x="954.5" y="258.3" font-size="15" font-weight="normal" fill="#151515" stroke="#151515" stroke-width="0.4" text-anchor="start" textLength="207.8" lengthAdjust="spacingAndGlyphs" >OD1: Einzelbelegung Oberdeck</text>
<text x="954.5" y="277.1" font-size="15" font-weight="normal" fill="#151515" stroke="#151515" stroke-width="0.4" text-anchor="start" textLength="119.5" lengthAdjust="spacingAndGlyphs" >deluxe, frz. Balkon</text>
<text x="936.5" y="306.4" font-size="14.5" font-weight="bold" fill="#111" stroke="#111" stroke-width="0.25" text-anchor="start" >3</text>
<text x="954.5" y="306.4" font-size="14.5" font-weight="bold" fill="#111" stroke="#111" stroke-width="0.25" text-anchor="start" textLength="74.8" lengthAdjust="spacingAndGlyphs" >Mitteldeck</text>
<rect x="935.4" y="321.6" width="11.300000000000068" height="10.799999999999955" fill="#ef9614" stroke="none" stroke-width="0"/>
<text x="954.5" y="331.3" font-size="15" font-weight="normal" fill="#151515" stroke="#151515" stroke-width="0.4" text-anchor="start" textLength="212" lengthAdjust="spacingAndGlyphs" >MDA: 2-Bett Mitteldeck superior</text>
<text x="954.5" y="350.8" font-size="15" font-weight="normal" fill="#151515" stroke="#151515" stroke-width="0.4" text-anchor="start" textLength="59" lengthAdjust="spacingAndGlyphs" >(achtern)</text>
<rect x="935.4" y="361.7" width="11.300000000000068" height="9.699999999999989" fill="#f7cc90" stroke="none" stroke-width="0"/>
<text x="954.5" y="371.4" font-size="15" font-weight="normal" fill="#151515" stroke="#151515" stroke-width="0.4" text-anchor="start" textLength="211" lengthAdjust="spacingAndGlyphs" >MDV: 2-Bett Mitteldeck superior</text>
<text x="954.5" y="390.6" font-size="15" font-weight="normal" fill="#151515" stroke="#151515" stroke-width="0.4" text-anchor="start" textLength="46" lengthAdjust="spacingAndGlyphs" >(vorne)</text>
<rect x="935.9" y="401.5" width="10.899999999999977" height="10.300000000000011" fill="#f6dfc0" stroke="#9a9a8a" stroke-width="1"/>
<text x="954.5" y="410.75" font-size="15" font-weight="normal" fill="#151515" stroke="#151515" stroke-width="0.4" text-anchor="start" textLength="212" lengthAdjust="spacingAndGlyphs" >MD2: 2-Bett Mitteldeck superior</text>
<rect x="935.9" y="422.7" width="10.899999999999977" height="9.800000000000011" fill="#fbf4ec" stroke="#9a9a8a" stroke-width="1"/>
<text x="954.5" y="431.3" font-size="15" font-weight="normal" fill="#151515" stroke="#151515" stroke-width="0.4" text-anchor="start" textLength="215.5" lengthAdjust="spacingAndGlyphs" >MD1: Einzelbelegung Mitteldeck</text>
<text x="954.5" y="450.8" font-size="15" font-weight="normal" fill="#151515" stroke="#151515" stroke-width="0.4" text-anchor="start" textLength="53.5" lengthAdjust="spacingAndGlyphs" >superior</text>
<text x="936.5" y="480.6" font-size="14.5" font-weight="bold" fill="#111" stroke="#111" stroke-width="0.25" text-anchor="start" >4</text>
<text x="954.5" y="480.6" font-size="14.5" font-weight="bold" fill="#111" stroke="#111" stroke-width="0.25" text-anchor="start" textLength="77" lengthAdjust="spacingAndGlyphs" >Hauptdeck</text>
<rect x="935.4" y="495.75" width="11.300000000000068" height="9.75" fill="#1c76bd" stroke="none" stroke-width="0"/>
<text x="954.5" y="505.5" font-size="15" font-weight="normal" fill="#151515" stroke="#151515" stroke-width="0.4" text-anchor="start" textLength="217.5" lengthAdjust="spacingAndGlyphs" >HDA: 2-Bett Hauptdeck (achtern)</text>
<rect x="935.4" y="516.8" width="11.300000000000068" height="9.200000000000045" fill="#9bbbe0" stroke="none" stroke-width="0"/>
<text x="954.5" y="525.7" font-size="15" font-weight="normal" fill="#151515" stroke="#151515" stroke-width="0.4" text-anchor="start" textLength="152.5" lengthAdjust="spacingAndGlyphs" >HD2: 2-Bett Hauptdeck</text>
<rect x="935.9" y="536.3" width="10.899999999999977" height="10.300000000000068" fill="#d8e3f2" stroke="#8a8f9a" stroke-width="1"/>
<text x="954.5" y="545.6" font-size="15" font-weight="normal" fill="#151515" stroke="#151515" stroke-width="0.4" text-anchor="start" textLength="215.5" lengthAdjust="spacingAndGlyphs" >HD1: Einzelbelegung Hauptdeck</text>
</svg></body></html>
